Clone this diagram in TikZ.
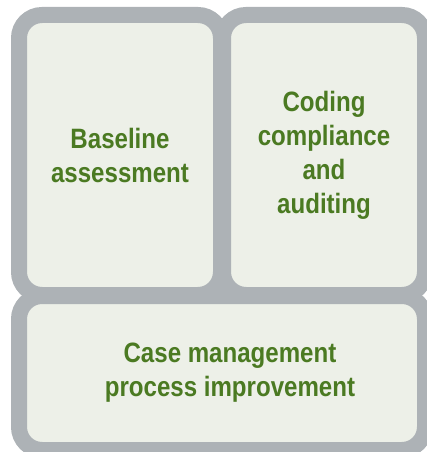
\documentclass[tikz,border=0pt]{standalone}
\usepackage{fontspec}
\usetikzlibrary{positioning}
\newfontfamily\panelfont{Liberation Sans}[FakeStretch=0.86]
\definecolor{panelgray}{HTML}{ADB2B6}
\definecolor{panelfill}{HTML}{EDF0E8}
\definecolor{panelgreen}{HTML}{4B7A22}
\tikzset{
	panel/.style={draw=panelgray, fill=panelfill, line width=16pt,
		rounded corners=23pt, outer sep=0pt, inner sep=0pt, paneltext},
	paneltext/.style={align=center, text=panelgreen,
		font=\panelfont\bfseries\fontsize{28}{34}\selectfont},
}

\begin{document}
\begin{tikzpicture}[x=1pt, y=1pt]
	\useasboundingbox (0,0) rectangle (427,-452);
	\node [panel, minimum width=202pt, minimum height=280pt] (base) at (120,-155) {Baseline\\assessment};
	\node [panel, minimum width=202pt, minimum height=280pt, right=2pt of base] (coding) {Coding\\compliance\\and\\auditing};
	\node [panel, minimum width=406pt, minimum height=154pt, below=1pt of base.south west, anchor=north west] (casemgmt) {};
	\node [paneltext] (casetext) at ([xshift=8pt]casemgmt.center) {Case management\\process improvement};
\end{tikzpicture}
\end{document}
